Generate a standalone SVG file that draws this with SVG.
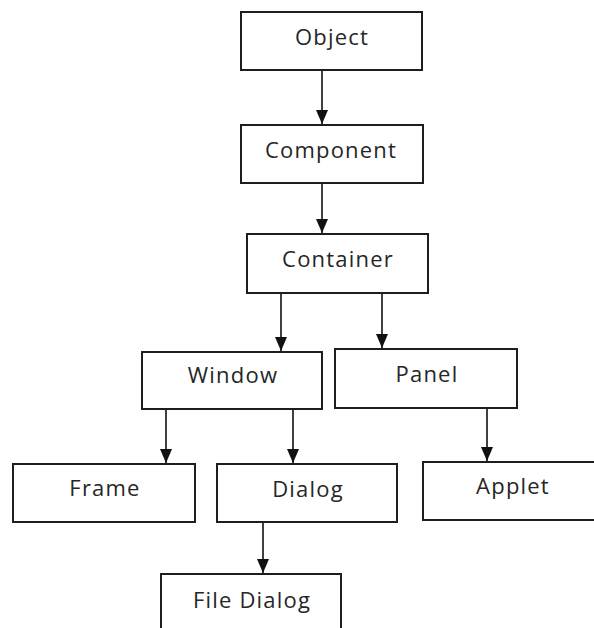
<svg xmlns="http://www.w3.org/2000/svg" width="594" height="628" viewBox="0 0 594 628">
<style>
.box{fill:#fff;stroke:#1e1e1e;stroke-width:2}
.lbl{font-family:"Open Sans","Liberation Sans",sans-serif;font-size:22px;fill:#262626;text-anchor:middle;letter-spacing:1.2px}
.conn{stroke:#111;stroke-width:1.6;fill:none;marker-end:url(#ah)}
</style>
<defs>
<marker id="ah" viewBox="0 0 14 12" refX="14" refY="6" markerWidth="14" markerHeight="12" markerUnits="userSpaceOnUse" orient="auto">
<path d="M0,0 L14,6 L0,12 Z" fill="#111"/>
</marker>
</defs>
<rect width="594" height="628" fill="#fff"/>
<g id="connectors">
<line class="conn" x1="322" y1="71" x2="322" y2="124"/>
<line class="conn" x1="322" y1="184" x2="322" y2="233"/>
<line class="conn" x1="281" y1="294" x2="281" y2="351"/>
<line class="conn" x1="382" y1="294" x2="382" y2="348"/>
<line class="conn" x1="166" y1="410" x2="166" y2="463"/>
<line class="conn" x1="293" y1="410" x2="293" y2="463"/>
<line class="conn" x1="487" y1="409" x2="487" y2="461"/>
<line class="conn" x1="263" y1="523" x2="263" y2="573"/>
</g>
<g id="object"><rect class="box" x="241" y="12" width="181" height="58"/><text class="lbl" x="332" y="45">Object</text></g>
<g id="component"><rect class="box" x="241" y="125" width="182" height="58"/><text class="lbl" x="331" y="158">Component</text></g>
<g id="container"><rect class="box" x="247" y="234" width="181" height="59"/><text class="lbl" x="338" y="267">Container</text></g>
<g id="window"><rect class="box" x="142" y="352" width="180" height="57"/><text class="lbl" x="233" y="383">Window</text></g>
<g id="panel"><rect class="box" x="335" y="349" width="182" height="59"/><text class="lbl" x="427" y="382">Panel</text></g>
<g id="frame"><rect class="box" x="13" y="464" width="182" height="58"/><text class="lbl" x="105" y="496">Frame</text></g>
<g id="dialog"><rect class="box" x="217" y="464" width="180" height="58"/><text class="lbl" x="308" y="497">Dialog</text></g>
<g id="applet"><rect class="box" x="423" y="462" width="182" height="58"/><text class="lbl" x="513" y="494">Applet</text></g>
<g id="filedialog"><rect class="box" x="161" y="574" width="180" height="60"/><text class="lbl" x="252" y="608">File Dialog</text></g>
</svg>
